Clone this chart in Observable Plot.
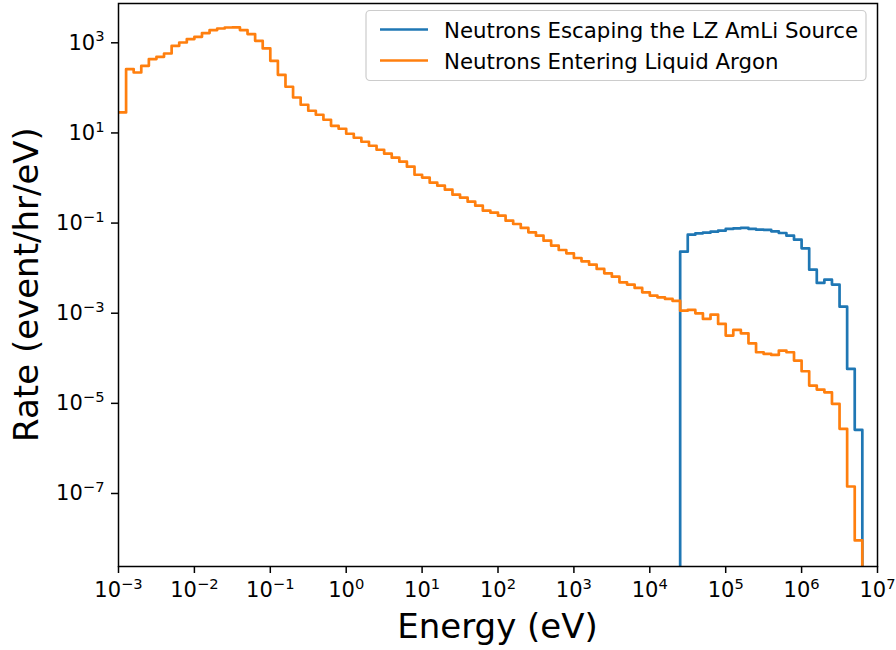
<!DOCTYPE html>
<html>
<head>
<meta charset="utf-8">
<script src="https://cdn.jsdelivr.net/npm/d3@7"></script>
<script src="https://cdn.jsdelivr.net/npm/@observablehq/plot@0.6"></script>
<style>
  body { margin: 0; background: #fff; }
  #chart { width: 896px; height: 650px; }
</style>
</head>
<body>
<div id="chart"></div>
<script>
// ---- Data ----
// Histogram bins: 100 bins, 0.1 decade wide, from 1e-3 eV to 1e7 eV
const binLogStart = -3;
const binLogWidth = 0.1;

const seriesNames = ["Neutrons Escaping the LZ AmLi Source", "Neutrons Entering Liquid Argon"];
const seriesColors = ["#1f77b4", "#ff7f0e"];

// Blue: rate per bin, starting at bin index 74 (1e4.4 eV)
const blueFirstBin = 74;
const blueRates = [0.0232, 0.0553, 0.0591, 0.0612, 0.0645, 0.0679, 0.0740, 0.0763, 0.0779, 0.0740,
  0.0714, 0.0703, 0.0655, 0.0603, 0.0526, 0.0428, 0.0275, 0.00926, 0.00470, 0.00556,
  0.00431, 0.00140, 5.82e-5, 2.58e-6];

// Orange: rate per bin, starting at bin index 0 (1e-3 eV)
const orangeFirstBin = 0;
const orangeRates = [28.5, 261, 219.5, 309, 435, 489, 579, 858, 1016, 1208,
  1358, 1641, 1912, 2075, 2183, 2208, 1912, 1560, 1107, 749,
  399, 195, 106, 61.2, 42.2, 31.1, 25.3, 19.6, 14.4, 12.4,
  9.6, 7.83, 6.38, 5.20, 4.24, 3.46, 2.82, 2.30, 1.78, 1.18,
  1.02, 0.787, 0.675, 0.550, 0.426, 0.366, 0.298, 0.243, 0.188, 0.170,
  0.146, 0.113, 0.0955, 0.0779, 0.0622, 0.0526, 0.0407, 0.0315, 0.0253, 0.0213,
  0.0168, 0.01415, 0.01196, 0.0096, 0.00767, 0.00648, 0.00484, 0.00431, 0.00364, 0.00291,
  0.00246, 0.00225, 0.00208, 0.00187, 0.00114, 0.00118, 0.000995, 0.000747, 0.000931, 0.000579,
  0.000319, 0.000426, 0.000358, 0.000215, 0.000136, 0.000125, 0.000119, 0.000148, 0.000136, 8.89e-5,
  5.15e-5, 2.48e-5, 2.02e-5, 1.76e-5, 9.75e-6, 2.72e-6, 1.43e-7, 9.1e-9];

const xTickExps = [-3, -2, -1, 0, 1, 2, 3, 4, 5, 6, 7];
const yTickExps = [-7, -5, -3, -1, 1, 3];
const xLabel = "Energy (eV)";
const yLabel = "Rate (event/hr/eV)";

// ---- Build step paths ----
const floorValue = 1e-14; // below the axis: drawn down to the frame bottom and clipped
const edge = i => Math.pow(10, binLogStart + i * binLogWidth);

function stepPoints(rates, firstBin, series, dropAtStart) {
  const pts = [];
  if (dropAtStart) pts.push({x: edge(firstBin), y: floorValue, series});
  rates.forEach((r, i) => pts.push({x: edge(firstBin + i), y: r, series}));
  const end = firstBin + rates.length;
  pts.push({x: edge(end), y: rates[rates.length - 1], series});
  pts.push({x: edge(end), y: floorValue, series});
  return pts;
}

const bluePts = stepPoints(blueRates, blueFirstBin, seriesNames[0], true);
const orangePts = stepPoints(orangeRates, orangeFirstBin, seriesNames[1], false);

const supFormat = d => "10^" + String(Math.round(Math.log10(d))).replace("-", "\u2212");

const chart = Plot.plot({
  width: 896,
  height: 650,
  marginLeft: 118,
  marginRight: 19,
  marginTop: 3,
  marginBottom: 84,
  style: {fontFamily: "DejaVu Sans", fontSize: "21px", background: "white", color: "black"},
  x: {type: "log", domain: [1e-3, 1e7]},
  y: {type: "log", domain: [Math.pow(10, -8.62), Math.pow(10, 3.872)]},
  marks: [
    Plot.line(bluePts, {x: "x", y: "y", stroke: seriesColors[0], strokeWidth: 2.7, curve: "step-after", clip: true}),
    Plot.line(orangePts, {x: "x", y: "y", stroke: seriesColors[1], strokeWidth: 2.7, curve: "step-after", clip: true}),
    Plot.frame({stroke: "black", strokeWidth: 1.5}),
    Plot.axisX({ticks: xTickExps.map(e => Math.pow(10, e)), tickFormat: supFormat, tickSize: 7, tickPadding: 9, strokeWidth: 1.5, label: null, fontSize: 21}),
    Plot.axisY({ticks: yTickExps.map(e => Math.pow(10, e)), tickFormat: supFormat, tickSize: 7, tickPadding: 7, strokeWidth: 1.5, label: null, fontSize: 21})
  ]
});

document.getElementById("chart").appendChild(chart);
const svg = d3.select(chart);

// superscripts for tick labels
svg.selectAll("text").each(function () {
  const t = this.textContent;
  const m = t.match(/^10\^(.+)$/);
  if (m) {
    this.textContent = "";
    const s = d3.select(this);
    s.append("tspan").text("10");
    s.append("tspan").attr("dy", "-0.55em").attr("font-size", "14.7px").text(m[1]);
  }
});

// axis labels
svg.append("text")
  .attr("x", 497.5).attr("y", 638)
  .attr("text-anchor", "middle")
  .attr("font-family", "DejaVu Sans").attr("font-size", 34).attr("fill", "black")
  .text(xLabel);
svg.append("text")
  .attr("transform", "translate(38,284.5) rotate(-90)")
  .attr("text-anchor", "middle")
  .attr("font-family", "DejaVu Sans").attr("font-size", 34).attr("fill", "black")
  .text(yLabel);

// legend
const lg = svg.append("g").attr("font-family", "DejaVu Sans").attr("font-size", 21.3).attr("text-anchor", "start");
lg.append("rect")
  .attr("x", 366).attr("y", 10.5).attr("width", 500).attr("height", 70).attr("rx", 4)
  .attr("fill", "white").attr("fill-opacity", 0.8).attr("stroke", "#cccccc").attr("stroke-width", 1.2);
seriesNames.forEach((name, i) => {
  const cy = 29.5 + i * 31;
  lg.append("line").attr("x1", 380).attr("x2", 428).attr("y1", cy).attr("y2", cy)
    .attr("stroke", seriesColors[i]).attr("stroke-width", 2.7);
  lg.append("text").attr("x", 444).attr("y", cy + 8).attr("text-anchor", "start").attr("fill", "black").text(name);
});
</script>
</body>
</html>
